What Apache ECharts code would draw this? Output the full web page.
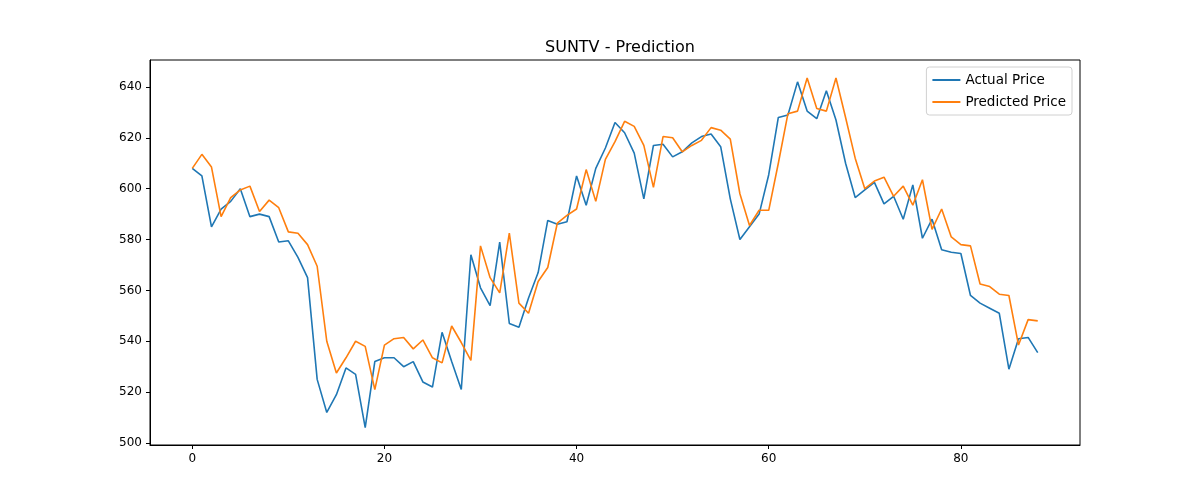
<!DOCTYPE html>
<html>
<head>
<meta charset="utf-8">
<script src="https://cdn.jsdelivr.net/npm/echarts@6/dist/echarts.min.js"></script>
<style>html,body{margin:0;padding:0;background:#fff}#main{width:1200px;height:500px}</style>
</head>
<body>
<div id="main"></div>
<script>
var actual = [608,605,585,592,595,600,589,590,589,579,579.5,573,565,525,512,519,529.5,527,506,532,
  533.5,533.5,530,532,524,522,543.5,532,521,574,561,554,579,547,545.5,557,567,587.5,586,587,
  605,593.5,608,616,626,622,614,596,617,617.5,612.5,614.5,618,620.5,621.5,616.5,596,580,585,590,
  605.5,628,629,642,630.5,627.5,638.5,627,610,596.5,599.5,602.5,594,597,588,601.5,580.5,588,576,575,
  574.5,558,555,553,551,529,541,541.5,535.5];
var predicted = [608,613.5,608.5,589,596.5,599.5,601,591,595.5,592.5,583,582.5,578,569.5,540,527.5,533.5,540,538,521,
  538.5,541,541.5,537,540.5,533.5,531.5,546,539.5,532.5,577.5,565,559,582.5,555,551,563.5,569,586.5,589.5,
  592,607.5,595,611.5,618.5,626.5,624.5,617,600.5,620.5,620,614.5,617,619,624,623,619.5,598,585.5,591.5,
  591.5,610,629.5,630.5,643.5,631.5,630.5,643.5,628,612,600,603,604.5,597,601,593.5,603.5,584,592,581,
  578,577.5,562.5,561.5,558.5,558,538.5,548.5,548];
var xTicks = [0,20,40,60,80];
var yTicks = [500,520,540,560,580,600,620,640];

function pairs(arr){ return arr.map(function(v,i){ return [i,v]; }); }

var chart = echarts.init(document.getElementById('main'));
chart.setOption({
  animation:false,
  title:{text:'SUNTV - Prediction', left:615, top:35, textAlign:'center',
    textStyle:{fontFamily:'DejaVu Sans', fontSize:16, fontWeight:'normal', color:'#000'}},
  legend:{orient:'vertical', right:128, top:67, icon:'rect', itemWidth:28, itemHeight:2, itemGap:8,
    borderColor:'#d0d0d0', borderWidth:1, borderRadius:3, padding:[6,6,6,6], backgroundColor:'#fff',
    textStyle:{fontFamily:'DejaVu Sans', fontSize:13.5, color:'#000'}},
  grid:{left:150, right:120, top:60, bottom:55, show:true, borderColor:'#000', borderWidth:1},
  xAxis:{type:'value', min:-4.4, max:92.4,
    axisLine:{show:true, onZero:false, lineStyle:{color:'#000'}},
    axisTick:{show:true, inside:false, customValues:xTicks, length:4, lineStyle:{color:'#000'}},
    axisLabel:{customValues:xTicks, color:'#000', fontFamily:'DejaVu Sans', fontSize:12, margin:8},
    splitLine:{show:false}},
  yAxis:{type:'value', min:499.2, max:650.6,
    axisLine:{show:true, onZero:false, lineStyle:{color:'#000'}},
    axisTick:{show:true, inside:false, customValues:yTicks, length:4, lineStyle:{color:'#000'}},
    axisLabel:{customValues:yTicks, color:'#000', fontFamily:'DejaVu Sans', fontSize:12, margin:8},
    splitLine:{show:false}},
  series:[
    {name:'Actual Price', type:'line', data:pairs(actual), showSymbol:false, color:'#1f77b4',
      lineStyle:{width:1.6}},
    {name:'Predicted Price', type:'line', data:pairs(predicted), showSymbol:false, color:'#ff7f0e',
      lineStyle:{width:1.6}}
  ]
});
</script>
</body>
</html>
